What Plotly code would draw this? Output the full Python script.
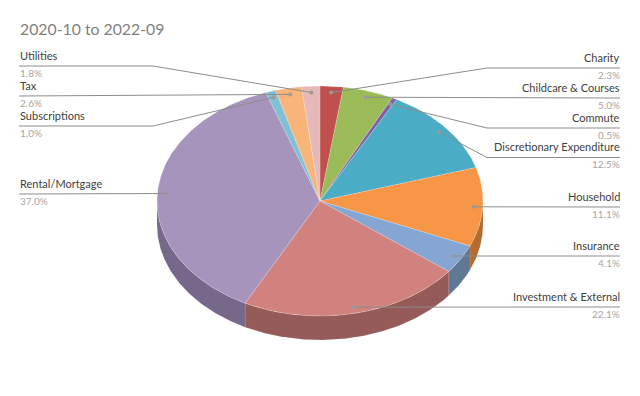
import math
import plotly.graph_objects as go

categories = ["Charity", "Childcare & Courses", "Commute", "Discretionary Expenditure", "Household",
              "Insurance", "Investment & External", "Rental/Mortgage", "Subscriptions", "Tax", "Utilities"]
shares = [2.3, 5.0, 0.5, 12.5, 11.1, 4.1, 22.1, 37.0, 1.0, 2.6, 1.8]
title_text = "2020-10 to 2022-09"

top_colors = ["#C0504D", "#9BBB59", "#8064A2", "#4BACC6", "#F79646", "#85A6D2",
              "#D2827E", "#A794BC", "#80C0D5", "#F9B47A", "#E6B8B7"]
side_colors = ["#8A3A38", "#708640", "#5C4875", "#367C8E", "#B36B2F", "#5F7896",
               "#955B59", "#76688A", "#5C8A99", "#B38158", "#A58484"]

# Layout of the drawing (pixels of the 640x396 page)
CX, CY, RX, RY, DEPTH = 320.0, 201.0, 163.0, 115.0, 24.0
ANCHOR_R = 0.945
LEFT_X, RIGHT_X, ELBOW_L, ELBOW_R = 19.0, 620.0, 153.0, 487.0
rule_y = [68, 98, 128, 157.5, 207, 256, 307, 194, 126, 96, 66]
side_of_label = ["R", "R", "R", "R", "R", "R", "R", "L", "L", "L", "L"]
has_elbow = [True, False, True, True, False, False, False, False, True, False, True]


def pt(deg, k=1.0, dz=0.0):
    a = math.radians(deg)
    return CX + RX * k * math.sin(a), CY - RY * k * math.cos(a) + dz


def arc(a0, a1, dz=0.0):
    n = max(2, int(abs(a1 - a0) * 2) + 1)
    return [pt(a0 + (a1 - a0) * i / (n - 1), 1.0, dz) for i in range(n)]


total = sum(shares)
starts, cum = [], 0.0
for v in shares:
    starts.append(cum / total * 360)
    cum += v
ends = starts[1:] + [360.0]

fig = go.Figure()

# Side walls: only the front half of the disc shows
for s, e, col in zip(starts, ends, side_colors):
    a0, a1 = max(s, 90.0), min(e, 270.0)
    if a1 <= a0:
        continue
    upper = arc(a0, a1)
    lower = arc(a1, a0, DEPTH)
    poly = upper + lower + upper[:1]
    fig.add_trace(go.Scatter(x=[p[0] for p in poly], y=[p[1] for p in poly], mode="lines",
                             fill="toself", fillcolor=col,
                             line=dict(color="rgba(255,255,255,0.2)", width=0.5),
                             hoverinfo="skip", showlegend=False))

# Top faces
for s, e, col, name, v in zip(starts, ends, top_colors, categories, shares):
    poly = [(CX, CY)] + arc(s, e) + [(CX, CY)]
    fig.add_trace(go.Scatter(x=[p[0] for p in poly], y=[p[1] for p in poly], mode="lines",
                             fill="toself", fillcolor=col,
                             line=dict(color="rgba(255,255,255,0.3)", width=0.6),
                             name=name, hoverinfo="skip", showlegend=False))

# Leader lines, dots, labels
for s, e, name, v, ry, side, elbow in zip(starts, ends, categories, shares, rule_y, side_of_label, has_elbow):
    ax, ay = pt((s + e) / 2, ANCHOR_R)
    end_x = RIGHT_X if side == "R" else LEFT_X
    xs, ys = [ax], [ay]
    if elbow:
        xs.append(ELBOW_R if side == "R" else ELBOW_L)
        ys.append(ry)
    xs.append(end_x)
    ys.append(ry)
    fig.add_trace(go.Scatter(x=xs, y=ys, mode="lines", line=dict(color="#8C8C8C", width=1),
                             hoverinfo="skip", showlegend=False))
    fig.add_trace(go.Scatter(x=[ax], y=[ay], mode="markers",
                             marker=dict(color="#9A9A9A", size=4),
                             hoverinfo="skip", showlegend=False))
    anchor = "right" if side == "R" else "left"
    shift = 2 if side == "R" else -1
    fig.add_annotation(x=end_x, y=ry - 11, text=name, showarrow=False, xanchor=anchor, yanchor="middle",
                       xshift=shift, font=dict(family="Lato", size=11, color="#404040"))
    fig.add_annotation(x=end_x, y=ry + 6.5, text=f"{v:.1f}%", showarrow=False, xanchor=anchor, yanchor="middle",
                       xshift=shift, font=dict(family="Lato", size=10, color="#A6A6A6"))

fig.add_annotation(x=19, y=28, text=title_text, showarrow=False, xanchor="left", yanchor="middle",
                   xshift=-1, font=dict(family="Lato", size=15.8, color="#7F7F7F"))

fig.update_layout(
    width=640, height=396, margin=dict(l=0, r=0, t=0, b=0),
    paper_bgcolor="white", plot_bgcolor="white", showlegend=False,
    xaxis=dict(range=[0, 640], visible=False, fixedrange=True),
    yaxis=dict(range=[396, 0], visible=False, fixedrange=True),
)
fig.write_html("out.html", config={"displayModeBar": False},
               post_script="document.body.style.margin='0';document.body.style.overflow='hidden';")
